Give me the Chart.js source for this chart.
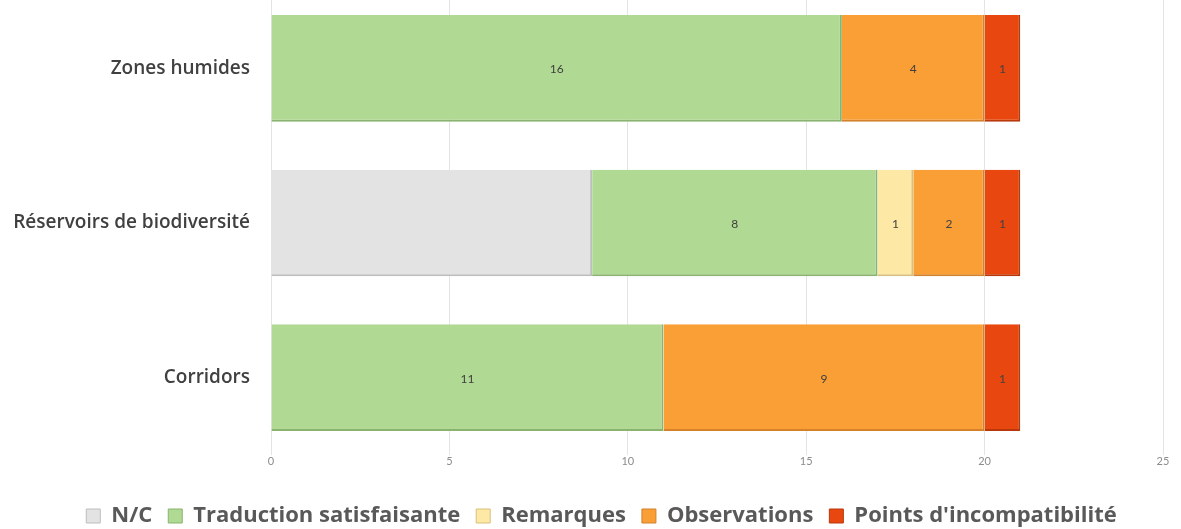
<!DOCTYPE html>
<html><head><meta charset="utf-8">
<script src="https://cdn.jsdelivr.net/npm/chart.js@4/dist/chart.umd.min.js"></script>
<style>
html,body{margin:0;padding:0;background:#fff;overflow:hidden;}
#wrap{position:relative;width:1181px;height:529px;overflow:hidden;}
#c{position:absolute;left:0;top:-9px;}
</style></head><body>
<div id="wrap"><canvas id="c" width="1181" height="546"></canvas></div>
<script>
const categories = ["Zones humides", "Réservoirs de biodiversité", "Corridors"];
const seriesNames = ["N/C", "Traduction satisfaisante", "Remarques", "Observations", "Points d'incompatibilité"];
const nc = [0, 9, 0];
const traduction = [16, 8, 11];
const remarques = [0, 1, 0];
const observations = [4, 2, 9];
const incompat = [1, 1, 1];
const xTicks = [0, 5, 10, 15, 20, 25];

const fills = ["#e3e3e3", "#b0da94", "#fde8a6", "#f99f36", "#e8480f"];
const edges = ["#bdbdbd", "#8ab36f", "#d8c07d", "#d3812a", "#b9380b"];
const values = [nc, traduction, remarques, observations, incompat];
const FONT = 'Lato, "Open Sans", sans-serif';
const FONT2 = '"Open Sans", sans-serif';

const labelPlugin = {
  id: 'barLabels',
  afterLayout(chart) {
    // let the category labels extend into the left padding without clipping
    chart.scales.y.left = 0;
  },
  afterDatasetsDraw(chart) {
    const ctx = chart.ctx;
    ctx.save();
    ctx.font = '12px ' + FONT;
    ctx.fillStyle = '#404040';
    ctx.textAlign = 'center';
    ctx.textBaseline = 'middle';
    chart.data.datasets.forEach((ds, i) => {
      if (i === 0) return;
      const meta = chart.getDatasetMeta(i);
      meta.data.forEach((bar, j) => {
        const v = ds.data[j];
        if (!v) return;
        const cx = (bar.x + bar.base) / 2;
        ctx.fillText(String(v), cx, bar.y + 1);
      });
    });
    ctx.restore();
  }
};

new Chart(document.getElementById('c'), {
  type: 'bar',
  data: {
    labels: categories,
    datasets: seriesNames.map((n, i) => ({
      label: n,
      data: values[i],
      backgroundColor: fills[i],
      borderColor: edges[i],
      borderWidth: {top: 0, left: 0, right: 2, bottom: 2},
      borderSkipped: false,
      barPercentage: 0.69,
      categoryPercentage: 1.0
    }))
  },
  options: {
    indexAxis: 'y',
    responsive: false,
    animation: false,
    layout: {padding: {left: 40, right: 18, top: 0, bottom: 0}},
    scales: {
      x: {
        stacked: true,
        min: 0, max: 25,
        afterBuildTicks: (s) => { s.ticks = xTicks.map(v => ({value: v})); },
        afterFit: (s) => { s.height = 34; s.paddingLeft = 0; s.paddingRight = 0; },
        grid: {color: '#e4e4e4', drawTicks: true, tickLength: 0},
        border: {display: false},
        ticks: {color: '#8c8c8c', font: {size: 11, family: FONT}, padding: 0}
      },
      y: {
        stacked: true,
        afterFit: (s) => { s.width = 231; s.paddingTop = 0; s.paddingBottom = 0; },
        grid: {display: false},
        border: {display: false},
        ticks: {color: '#404040', font: {size: 19, weight: '600', family: FONT2}, padding: 13}
      }
    },
    plugins: {
      legend: {
        position: 'bottom',
        labels: {
          color: '#595959',
          font: {size: 22, weight: 'bold', family: FONT2},
          boxWidth: 14, boxHeight: 14, padding: 16
        }
      },
      tooltip: {enabled: false}
    }
  },
  plugins: [labelPlugin]
});
</script>
</body></html>
